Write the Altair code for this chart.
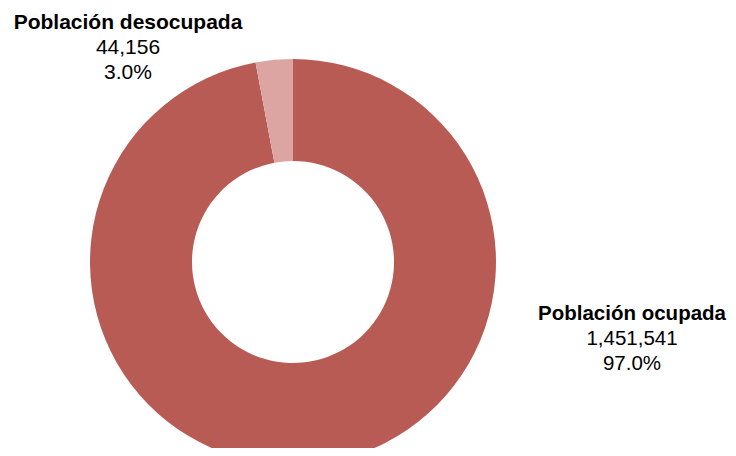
import altair as alt
import pandas as pd

categories = ["Población ocupada", "Población desocupada"]
values = [1451541, 44156]
colors = ["#B95B55", "#DCA5A2"]

df = pd.DataFrame({"categoria": categories, "valor": values})

base = alt.Chart(df).transform_window(
    idx="row_number()"
).transform_joinaggregate(
    total="sum(valor)"
).transform_calculate(
    pct="datum.valor / datum.total",
    detalle="format(datum.valor, ',') + '\\n' + format(datum.valor / datum.total, '.1%')",
)

CX, CY = 285, 254

arc = base.mark_arc(outerRadius=203, innerRadius=101, strokeWidth=0).encode(
    theta=alt.Theta("valor:Q", stack=True),
    color=alt.Color("categoria:N", scale=alt.Scale(domain=categories, range=colors), legend=None),
    order=alt.Order("idx:Q"),
    x=alt.value(CX),
    y=alt.value(CY),
)

FONT = "Liberation Sans"
LH = 25

def label(cat, x, y, fs):
    name = base.transform_filter(alt.datum.categoria == cat).mark_text(
        font=FONT, fontSize=fs, fontWeight="bold", align="center", baseline="alphabetic", color="#000000"
    ).encode(text="categoria:N", x=alt.value(x), y=alt.value(y))
    det = base.transform_filter(alt.datum.categoria == cat).mark_text(
        font=FONT, fontSize=fs, align="center", baseline="alphabetic", lineBreak="\n",
        lineHeight=LH, color="#000000"
    ).encode(text="detalle:N", x=alt.value(x), y=alt.value(y + LH))
    return name + det

chart = alt.layer(
    arc,
    label("Población desocupada", 120, 21, 21),
    label("Población ocupada", 624, 312, 20.5),
).properties(
    width=720, height=440, padding=0,
    autosize=alt.AutoSizeParams(type="fit", contains="padding"),
).configure_view(stroke=None)

chart.save("out.html", embed_options={"renderer": "svg", "actions": False})
